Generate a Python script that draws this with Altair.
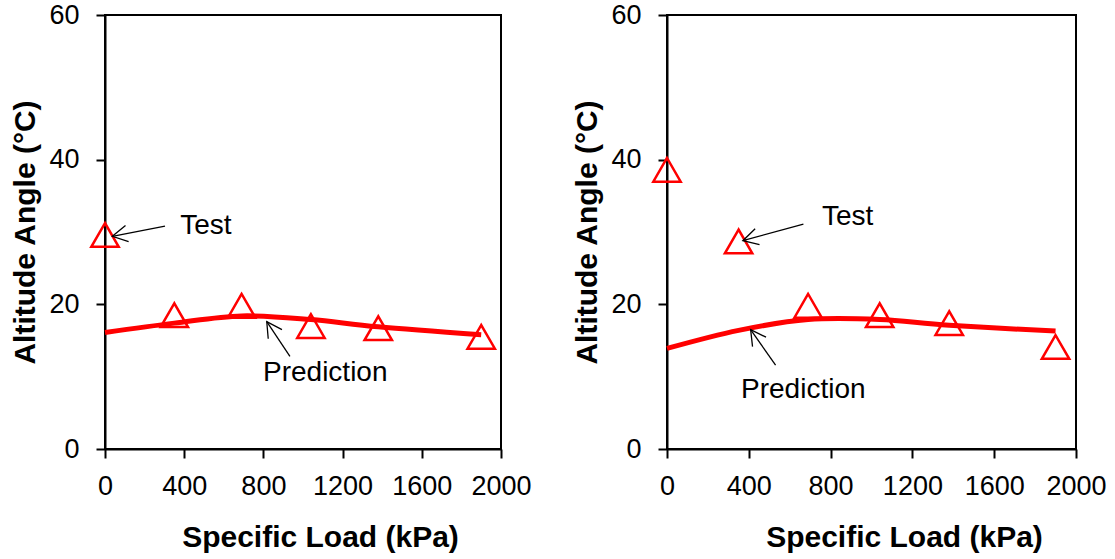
import math
import altair as alt
import pandas as pd

# ---- data ----
load_kpa = [0, 350, 690, 1040, 1380, 1900]

left_test = [29.6, 18.5, 19.8, 17.0, 16.7, 15.5]
left_pred = [16.1, 17.4, 18.4, 17.9, 16.9, 15.8]

right_test = [38.6, 28.7, 19.8, 18.5, 17.4, 14.1]
right_pred = [13.9, 16.4, 17.9, 17.9, 17.1, 16.3]

# annotations: label, text x, text y, arrow tail x, tail y, arrow tip x, tip y
left_notes = [
    ["Test", 380, 30.8, 303, 30.8, 37, 29.4],
    ["Prediction", 798, 10.5, 934, 12.8, 817, 17.6],
]
right_notes = [
    ["Test", 758, 32.1, 667, 31.1, 371, 28.8],
    ["Prediction", 362, 8.2, 531, 11.6, 409, 16.5],
]

X_TICKS = [0, 400, 800, 1200, 1600, 2000]
Y_TICKS = [0, 20, 40, 60]
X_MAX, Y_MAX = 2000, 60
HEIGHT = 434
FONT = "Liberation Sans"
RED = "#FF0000"


def panel(test_y, pred_y, notes, width, title_x):
    xs = alt.Scale(domain=[0, X_MAX], nice=False, zero=False)
    ys = alt.Scale(domain=[0, Y_MAX], nice=False, zero=False)
    xaxis = alt.Axis(values=X_TICKS, format="d", labelOverlap=False, labelFlush=False,
                     title="Specific Load (kPa)", titleX=title_x,
                     titleY=97, titleBaseline="alphabetic", titleAnchor="start",
                     titleAlign="center")
    yaxis = alt.Axis(values=Y_TICKS, format="d", labelOverlap=False, labelFlush=False,
                     title="Altitude Angle (°C)", titleX=-71,
                     titleBaseline="alphabetic")

    df_t = pd.DataFrame({"x": load_kpa, "y": test_y})
    df_p = pd.DataFrame({"x": load_kpa, "y": pred_y})

    pxx = width / X_MAX
    pxy = HEIGHT / Y_MAX
    rows = []
    for lab, tx, ty, ax, ay, bx, by in notes:
        dx = (bx - ax) * pxx
        dy = -(by - ay) * pxy
        ang = math.degrees(math.atan2(dy, dx)) % 360
        rows.append({"label": lab, "tx": tx, "ty": ty, "ax": ax, "ay": ay,
                     "bx": bx, "by": by, "ang": ang})
    df_n = pd.DataFrame(rows)

    line = alt.Chart(df_p).mark_line(color=RED, strokeWidth=5, interpolate="cardinal").encode(
        x=alt.X("x:Q", scale=xs, axis=xaxis),
        y=alt.Y("y:Q", scale=ys, axis=yaxis),
    )
    pts = alt.Chart(df_t).mark_point(shape="triangle-up", filled=False, color=RED,
                                     size=750, strokeWidth=2.5, opacity=1).encode(
        x=alt.X("x:Q", scale=xs), y=alt.Y("y:Q", scale=ys)
    )
    shafts = alt.Chart(df_n).mark_rule(color="black", strokeWidth=1.3).encode(
        x=alt.X("ax:Q", scale=xs), y=alt.Y("ay:Q", scale=ys),
        x2="bx:Q", y2="by:Q",
    )
    heads = alt.Chart(df_n).mark_point(shape="M-1,-0.55L0,0L-1,0.55", filled=False,
                                       color="black", size=900, strokeWidth=1.3,
                                       opacity=1).encode(
        x=alt.X("bx:Q", scale=xs), y=alt.Y("by:Q", scale=ys),
        angle=alt.Angle("ang:Q", scale=None),
    )
    texts = alt.Chart(df_n).mark_text(font=FONT, fontSize=28, align="left",
                                      baseline="middle", color="black").encode(
        x=alt.X("tx:Q", scale=xs), y=alt.Y("ty:Q", scale=ys), text="label:N"
    )
    return alt.layer(line, pts, shafts, heads, texts).properties(width=width, height=HEIGHT)


left = panel(left_test, left_pred, left_notes, 396, 215)
right = panel(right_test, right_pred, right_notes, 409, 237)

chart = alt.hconcat(left, right, spacing=38).properties(
    padding={"left": 9, "top": 0, "right": 0, "bottom": 0}
).configure_view(
    stroke="black", strokeWidth=2
).configure_axis(
    grid=False, domainColor="black", domainWidth=2, tickColor="black", tickWidth=2,
    tickSize=9, labelFont=FONT, labelFontSize=27, labelColor="black", labelPadding=15,
    titleFont=FONT, titleFontSize=30, titleFontWeight="bold", titleColor="black",
).configure_axisY(labelPadding=17)

chart.save("out.html", embed_options={"renderer": "svg", "actions": False})
